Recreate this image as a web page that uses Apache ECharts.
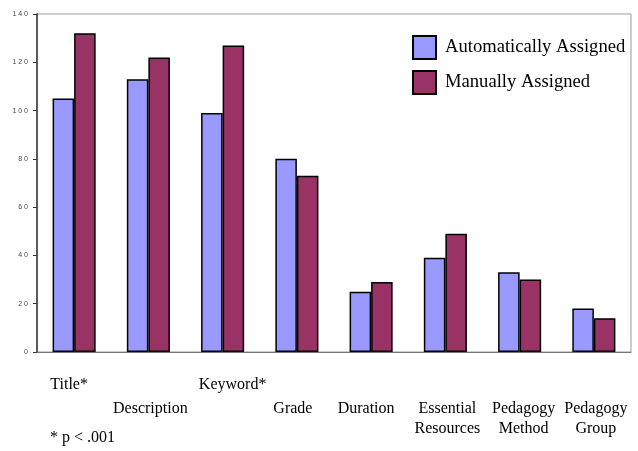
<!DOCTYPE html>
<html>
<head>
<meta charset="utf-8">
<script src="https://cdn.jsdelivr.net/npm/echarts@6/dist/echarts.min.js"></script>
<style>html,body{margin:0;padding:0;background:#fff;}#c{width:638px;height:451px;}</style>
</head>
<body>
<div id="c"></div>
<script>
var categories = ["Title*", "Description", "Keyword*", "Grade", "Duration", "Essential\nResources", "Pedagogy\nMethod", "Pedagogy\nGroup"];
var automatic = [105, 113, 99, 80, 25, 39, 33, 18];
var manual = [132, 122, 127, 73, 29, 49, 30, 14];
var yTicks = [0, 20, 40, 60, 80, 100, 120, 140];
var seriesNames = ["Automatically Assigned", "Manually Assigned"];
var footnote = "* p < .001";

// layout only: which row each label starts on, and horizontal nudge in px
var labelRow = [0, 1, 0, 1, 1, 1, 1, 1];
var labelShift = [-5, 2, 10, -4, -5, 2, 4, 2];

var catData = categories.map(function (c, i) {
  var s = labelShift[i];
  return {value: c, textStyle: {padding: [labelRow[i] * 24, s < 0 ? -2 * s : 0, 0, s > 0 ? 2 * s : 0]}};
});

var chart = echarts.init(document.getElementById('c'), null, {renderer: 'canvas'});
var serif = '"Liberation Serif", "Times New Roman", serif';
chart.setOption({
  animation: false,
  backgroundColor: '#fff',
  grid: {left: 37, top: 14, right: 7, bottom: 99, show: true, borderColor: '#999', borderWidth: 1, backgroundColor: 'transparent'},
  legend: {
    data: seriesNames,
    orient: 'vertical',
    left: 412, top: 35, padding: 0,
    itemWidth: 23, itemHeight: 23, itemGap: 10,
    icon: 'rect',
    textStyle: {fontFamily: serif, fontSize: 18.6, color: '#000', padding: [0, 0, 0, 4]}
  },
  xAxis: {
    type: 'category',
    data: catData,
    axisLine: {lineStyle: {color: '#777', width: 1}},
    axisTick: {show: false},
    axisLabel: {
      interval: 0,
      margin: 23,
      fontFamily: serif, fontSize: 16, color: '#000', lineHeight: 20
    }
  },
  yAxis: {
    type: 'value',
    min: yTicks[0], max: yTicks[yTicks.length - 1], interval: yTicks[1] - yTicks[0],
    splitLine: {show: false},
    axisLine: {show: true, lineStyle: {color: '#333', width: 1.5}},
    axisTick: {show: true, inside: false, length: 4, lineStyle: {color: '#333'}},
    axisLabel: {
      margin: 9, fontFamily: 'Arial, "Liberation Sans", sans-serif', fontSize: 7, color: '#444',
      formatter: function (v) { return String(v).split('').join(' '); }
    }
  },
  series: [
    {name: seriesNames[0], type: 'bar', data: automatic, barGap: '0%', barCategoryGap: '42%',
     itemStyle: {color: '#9999FF', borderColor: '#000', borderWidth: 1.5}},
    {name: seriesNames[1], type: 'bar', data: manual,
     itemStyle: {color: '#993366', borderColor: '#000', borderWidth: 1.5}}
  ],
  graphic: [{
    type: 'text', left: 50, top: 430,
    style: {text: footnote, font: '16px ' + serif, fill: '#000'}
  }]
});
</script>
</body>
</html>
